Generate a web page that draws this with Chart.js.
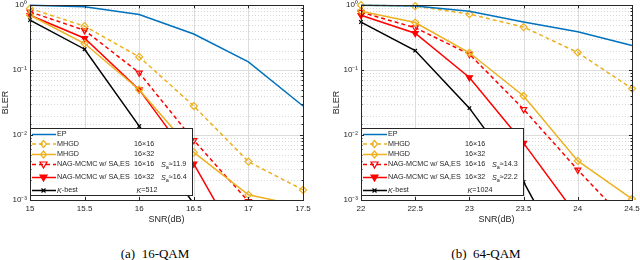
<!DOCTYPE html>
<html>
<head>
<meta charset="utf-8">
<script src="https://cdn.jsdelivr.net/npm/chart.js@4.4.1/dist/chart.umd.min.js"></script>
<style>
  html, body { margin: 0; padding: 0; background: #fff; }
  body { width: 640px; height: 260px; position: relative; overflow: hidden; }
  .panel { position: absolute; top: 0; height: 235px; }
  .caption { position: absolute; top: 247px; font: 13px/14px "Liberation Serif", "Times New Roman", serif; color: #000; white-space: pre; transform: translateX(-50%); }
</style>
</head>
<body>
<div class="panel" style="left:0;width:320px"><canvas id="qam16" width="320" height="235"></canvas></div>
<div class="panel" style="left:331px;width:309px"><canvas id="qam64" width="309" height="235"></canvas></div>
<div class="caption" style="left:155px">(a)  16-QAM</div>
<div class="caption" style="left:486px">(b)  64-QAM</div>
<script>
// 16-QAM panel
const snr16 = [15, 15.5, 16, 16.5, 17, 17.5];
const ep16 = [1.0, 0.95, 0.72, 0.36, 0.134, 0.028];
const mhgdA16 = [0.89, 0.475, 0.16, 0.028, 0.0039, 0.00143];   // 16x16
const mhgdB16 = [0.70, 0.257, 0.05, 0.0054, 0.0012, 0.0008];   // 16x32
const nagA16 = [0.79, 0.41, 0.091, 0.0083, 0.00095, null];
const nagB16 = [0.70, 0.31, 0.05, 0.0036, 0.00012, null];
const kbest16 = [0.59, 0.21, 0.0137, 0.00087, null, null];

// 64-QAM panel
const snr64 = [22, 22.5, 23, 23.5, 24, 24.5];
const ep64 = [1.0, 0.97, 0.81, 0.55, 0.39, 0.24];
const mhgdA64 = [1.0, 0.97, 0.73, 0.46, 0.187, 0.052];
const mhgdB64 = [0.81, 0.54, 0.185, 0.04, 0.004, 0.00104];
const nagA64 = [0.78, 0.45, 0.176, 0.025, 0.0029, 0.00038];
const nagB64 = [0.70, 0.37, 0.077, 0.0075, 0.00055, null];
const kbest64 = [0.55, 0.2, 0.026, 0.0019, 0.000055, null];

const legendNames = ['EP', 'MHGD', 'MHGD', 'NAG-MCMC w/ SA,ES', 'NAG-MCMC w/ SA,ES', 'K-best'];
const legendSizes = ['', '16×16', '16×32', '16×16', '16×32', ''];
const saValues16 = ['11.9', '16.4'];
const saValues64 = ['14.3', '22.2'];
const kValue16 = '512';
const kValue64 = '1024';

const BLUE = '#0072BD';
const ORANGE = '#EDB120';
const RED = '#FF0000';
const TEXT = '#262626';
const SANS = '"Liberation Sans", Arial, Helvetica, sans-serif';

function series(snr, values) {
  return values.map((v, i) => ({ x: snr[i], y: v })).filter((p) => p.y != null);
}

function isPow10(v) {
  const e = Math.log10(v);
  return Math.abs(e - Math.round(e)) < 1e-6;
}

const SUP = { '0': '⁰', '1': '¹', '2': '²', '3': '³', '-': '⁻' };
function pow10Label(v) {
  if (!isPow10(v)) return '';
  const e = String(Math.round(Math.log10(v)));
  return '10' + e.split('').map((c) => SUP[c]).join('');
}

function drawMarker(ctx, kind, x, y, color) {
  ctx.save();
  ctx.strokeStyle = color;
  ctx.fillStyle = color;
  ctx.lineWidth = 1.2;
  ctx.setLineDash([]);
  ctx.beginPath();
  if (kind === 'diamond') {
    ctx.moveTo(x, y - 3.5); ctx.lineTo(x + 3, y); ctx.lineTo(x, y + 3.5); ctx.lineTo(x - 3, y); ctx.closePath();
    ctx.stroke();
  } else if (kind === 'tri' || kind === 'triFill') {
    ctx.moveTo(x - 3.5, y - 2.5); ctx.lineTo(x + 3.5, y - 2.5); ctx.lineTo(x, y + 3.5); ctx.closePath();
    if (kind === 'triFill') ctx.fill();
    ctx.stroke();
  } else if (kind === 'cross') {
    ctx.moveTo(x - 2, y - 2); ctx.lineTo(x + 2, y + 2);
    ctx.moveTo(x + 2, y - 2); ctx.lineTo(x - 2, y + 2);
    ctx.stroke();
  }
  ctx.restore();
}

// draws a list of text runs: {t, italic, sub}
function drawRuns(ctx, runs, x, y) {
  runs.forEach((r) => {
    ctx.font = (r.italic ? 'italic ' : '') + (r.sub ? '5.5px ' : '7.2px ') + SANS;
    ctx.fillText(r.t, x, r.sub ? y + 2.5 : y);
    x += ctx.measureText(r.t).width;
  });
}

const legendPlugin = {
  id: 'matlabLegend',
  afterDatasetsDraw(chart, args, opts) {
    const { ctx, chartArea } = chart;
    const x0 = Math.round(chartArea.left);
    const h = 68;
    const y0 = Math.round(chartArea.bottom) - 4 - h;
    const w = opts.width;
    ctx.save();
    ctx.fillStyle = '#fff';
    ctx.fillRect(x0, y0, w, h);
    ctx.strokeStyle = TEXT;
    ctx.lineWidth = 1;
    ctx.strokeRect(x0 + 0.5, y0 + 0.5, w - 1, h - 1);
    const rowY = [6.5, 16, 26.5, 36.5, 49.5, 62.5];
    ctx.textBaseline = 'middle';
    chart.data.datasets.forEach((ds, i) => {
      const y = y0 + rowY[i];
      ctx.strokeStyle = ds.borderColor;
      ctx.lineWidth = 1.5;
      ctx.setLineDash(ds.borderDash || []);
      ctx.beginPath();
      ctx.moveTo(x0 + 2, y);
      ctx.lineTo(x0 + 26, y);
      ctx.stroke();
      ctx.setLineDash([]);
      if (ds.marker) drawMarker(ctx, ds.marker, x0 + 13.5, y, ds.borderColor);
      ctx.fillStyle = TEXT;
      const name = legendNames[i];
      if (name === 'K-best') {
        drawRuns(ctx, [{ t: 'K', italic: true }, { t: '-best' }], x0 + 27, y);
        drawRuns(ctx, [{ t: 'K', italic: true }, { t: '=' + opts.k }], x0 + opts.kX, y);
      } else {
        drawRuns(ctx, [{ t: name }], x0 + 27, y);
      }
      if (legendSizes[i]) drawRuns(ctx, [{ t: legendSizes[i] }], x0 + opts.sizeX, y);
      if (i === 3 || i === 4) {
        drawRuns(ctx, [{ t: 'S', italic: true }, { t: 'a', sub: true }, { t: '≈' + opts.sa[i - 3] }], x0 + opts.saX, y);
      }
    });
    ctx.restore();
  }
};

const axesPlugin = {
  id: 'matlabAxes',
  beforeDatasetsDraw(chart) {
    const { ctx, chartArea: a, scales: { x, y } } = chart;
    ctx.save();
    ctx.lineWidth = 1;
    y.ticks.forEach((t) => {
      const py = Math.round(y.getPixelForValue(t.value)) + 0.5;
      const major = isPow10(t.value);
      ctx.strokeStyle = major ? '#dcdcdc' : '#d8d8d8';
      ctx.setLineDash(major ? [] : [1, 2]);
      ctx.beginPath(); ctx.moveTo(a.left, py); ctx.lineTo(a.right, py); ctx.stroke();
    });
    ctx.setLineDash([]);
    ctx.strokeStyle = '#dcdcdc';
    x.ticks.forEach((t) => {
      const px = Math.round(x.getPixelForValue(t.value)) + 0.5;
      ctx.beginPath(); ctx.moveTo(px, a.top); ctx.lineTo(px, a.bottom); ctx.stroke();
    });
    ctx.restore();
  },
  afterDraw(chart) {
    const { ctx, chartArea: a, scales: { x, y } } = chart;
    ctx.save();
    ctx.strokeStyle = TEXT;
    ctx.lineWidth = 1;
    ctx.beginPath();
    x.ticks.forEach((t) => {
      const px = Math.round(x.getPixelForValue(t.value)) + 0.5;
      ctx.moveTo(px, a.bottom); ctx.lineTo(px, a.bottom - 3);
      ctx.moveTo(px, a.top); ctx.lineTo(px, a.top + 3);
    });
    y.ticks.forEach((t) => {
      const py = Math.round(y.getPixelForValue(t.value)) + 0.5;
      const len = isPow10(t.value) ? 3 : 1.5;
      ctx.moveTo(a.left, py); ctx.lineTo(a.left + len, py);
      ctx.moveTo(a.right, py); ctx.lineTo(a.right - len, py);
    });
    ctx.stroke();
    ctx.strokeRect(Math.round(a.left) + 0.5, Math.round(a.top) + 0.5, Math.round(a.right - a.left), Math.round(a.bottom - a.top));
    ctx.restore();
  }
};

function makeDatasets(snr, ep, mA, mB, nA, nB, kb) {
  const base = { borderWidth: 1.5, fill: false, tension: 0, pointBorderWidth: 1.2, clip: { left: 6, right: 6, top: 6, bottom: 0 } };
  return [
    { ...base, label: 'EP', data: series(snr, ep), borderColor: BLUE, pointRadius: 0 },
    { ...base, label: 'MHGD 16x16', data: series(snr, mA), borderColor: ORANGE, borderDash: [4, 3], marker: 'diamond',
      pointStyle: 'rectRot', pointRadius: 3.5, pointBorderColor: ORANGE, pointBackgroundColor: 'rgba(0,0,0,0)' },
    { ...base, label: 'MHGD 16x32', data: series(snr, mB), borderColor: ORANGE, marker: 'diamond',
      pointStyle: 'rectRot', pointRadius: 3.5, pointBorderColor: ORANGE, pointBackgroundColor: 'rgba(0,0,0,0)' },
    { ...base, label: 'NAG-MCMC 16x16', data: series(snr, nA), borderColor: RED, borderDash: [4, 3], marker: 'tri',
      pointStyle: 'triangle', pointRotation: 180, pointRadius: 3.5, pointBorderColor: RED, pointBackgroundColor: 'rgba(0,0,0,0)' },
    { ...base, label: 'NAG-MCMC 16x32', data: series(snr, nB), borderColor: RED, marker: 'triFill',
      pointStyle: 'triangle', pointRotation: 180, pointRadius: 3.5, pointBorderColor: RED, pointBackgroundColor: RED },
    { ...base, label: 'K-best', data: series(snr, kb), borderColor: '#000', marker: 'cross',
      pointStyle: 'crossRot', pointRadius: 2.5, pointBorderColor: '#000' }
  ];
}

function makeChart(canvas, snr, datasets, padRight, legendOpts) {
  const tickFont = { family: SANS, size: 8 };
  const titleFont = { family: SANS, size: 9 };
  return new Chart(canvas, {
    type: 'line',
    data: { datasets },
    plugins: [axesPlugin, legendPlugin],
    options: {
      responsive: false,
      animation: false,
      devicePixelRatio: 1,
      layout: { padding: { top: 5, right: padRight, left: 0, bottom: 0 } },
      plugins: { legend: { display: false }, tooltip: { enabled: false }, matlabLegend: legendOpts },
      scales: {
        x: {
          type: 'linear', min: snr[0], max: snr[snr.length - 1],
          grid: { display: false, drawTicks: false }, border: { display: false },
          ticks: { stepSize: 0.5, autoSkip: false, maxRotation: 0, padding: 4, color: TEXT, font: tickFont, callback: (v) => String(v) },
          title: { display: true, text: 'SNR(dB)', color: TEXT, font: titleFont, padding: { top: 0, bottom: 10 } },
          afterFit: (s) => { s.height = 35; s.paddingLeft = 0; s.paddingRight = 0; }
        },
        y: {
          type: 'logarithmic', min: 1e-3, max: 1,
          grid: { display: false, drawTicks: false }, border: { display: false },
          ticks: { autoSkip: false, padding: 3, color: TEXT, font: tickFont, callback: (v) => pow10Label(v) },
          title: { display: true, text: 'BLER', color: TEXT, font: titleFont, padding: 0 },
          afterFit: (s) => { s.width = 30; s.paddingTop = 0; s.paddingBottom = 0; }
        }
      }
    }
  });
}

makeChart(document.getElementById('qam16'), snr16,
  makeDatasets(snr16, ep16, mhgdA16, mhgdB16, nagA16, nagB16, kbest16), 17,
  { width: 163, sizeX: 104, saX: 131, kX: 106.5, sa: saValues16, k: kValue16 });

makeChart(document.getElementById('qam64'), snr64,
  makeDatasets(snr64, ep64, mhgdA64, mhgdB64, nagA64, nagB64, kbest64), 8,
  { width: 163, sizeX: 104, saX: 131, kX: 106.5, sa: saValues64, k: kValue64 });
</script>
</body>
</html>
